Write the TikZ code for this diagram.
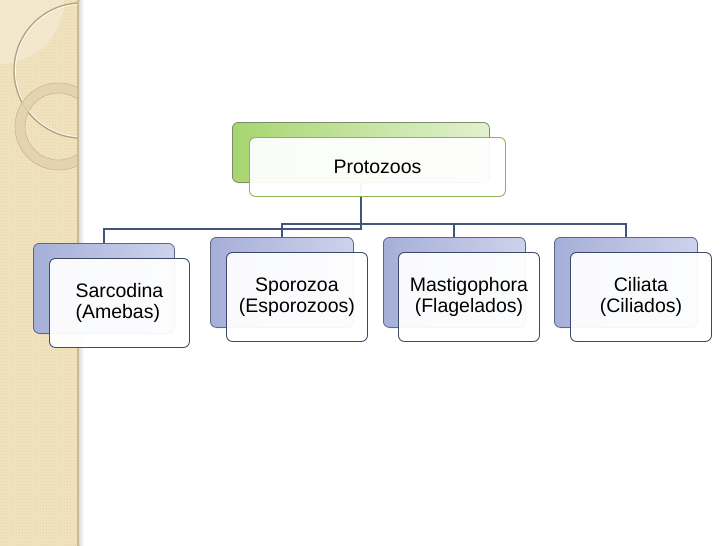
\documentclass[tikz,border=0pt]{standalone}
\usepackage{fontspec}
\setmainfont{Liberation Sans}
\usetikzlibrary{patterns,shadows}
\definecolor{bandc}{HTML}{F2E4C0}
\definecolor{bandd}{HTML}{E4D1A4}
\definecolor{quadc}{HTML}{F7EEDB}
\definecolor{arcc}{HTML}{B0A27E}
\definecolor{ringc}{HTML}{E2D3AE}
\definecolor{ringe}{HTML}{C9B88F}
\definecolor{edgec}{HTML}{CDBB8F}
\definecolor{blL}{HTML}{A6AFD8}
\definecolor{blR}{HTML}{CDD3EC}
\definecolor{blB}{HTML}{5C6685}
\definecolor{frB}{HTML}{3D4A6B}
\definecolor{grL}{HTML}{A6D670}
\definecolor{grR}{HTML}{E2F1CF}
\definecolor{grB}{HTML}{7C8C6A}
\definecolor{grF}{HTML}{8DB35B}
\definecolor{connc}{HTML}{44557A}
\begin{document}
\begin{tikzpicture}[x=1pt,y=-1pt,
  lab/.style={font=\fontsize{19.5}{21}\selectfont},
  backbox/.style={rounded corners=6pt, draw=blB, line width=0.8pt, left color=blL, right color=blR,
    inner sep=0pt, anchor=north west, drop shadow={opacity=0.2, shadow xshift=0.8pt, shadow yshift=-1pt}},
  gbackbox/.style={backbox, draw=grB, left color=grL, right color=grR},
  frontbox/.style={rounded corners=6pt, draw=frB, line width=0.9pt, fill=white, fill opacity=0.94,
    text opacity=1, inner sep=0pt, anchor=north west, lab, align=center},
  gfrontbox/.style={frontbox, draw=grF},
  conn/.style={draw=connc, line width=2pt}]
\useasboundingbox (0,0) rectangle (728,546);
\fill[white] (0,0) rectangle (728,546);
% decorative left band
\fill[bandc] (0,0) rectangle (79.5,546);
\pattern[pattern=crosshatch dots, pattern color=bandd] (0,0) rectangle (79.5,546);
\begin{scope}
  \clip (0,0) rectangle (79.5,546);
  \fill[quadc, opacity=0.55] (0,0) circle (64);
  \draw[arcc, line width=1.3pt] (81.6,70.5) circle (67.6);
  \draw[white, line width=0.7pt, opacity=0.8] (81.6,70.5) circle (66.2);
  \draw[ringc, line width=10pt, opacity=0.85] (58.5,126.5) circle (38.5);
  \draw[ringe, line width=0.6pt] (58.5,126.5) circle (43.5);
  \draw[ringe, line width=0.6pt] (58.5,126.5) circle (33.5);
\end{scope}
\fill[edgec] (77,0) rectangle (79.5,546);
\shade[left color=black!12, right color=white] (79.5,0) rectangle (84,546);
% back boxes
\node[gbackbox, minimum width=257pt, minimum height=60pt] (protob) at (232,122) {};
\node[backbox, minimum width=141pt, minimum height=90pt] (sarb) at (33,243) {};
\node[backbox, minimum width=143pt, minimum height=90pt] (spob) at (210,237) {};
\node[backbox, minimum width=142pt, minimum height=90pt] (masb) at (383,237) {};
\node[backbox, minimum width=143pt, minimum height=90pt] (cilb) at (554,237) {};
% connectors
\coordinate (busA) at (0,229);
\coordinate (busB) at (0,224);
\draw[conn] (protob.south) -- (protob.south |- busA) -| (sarb.north);
\draw[conn] (spob.north) -- (spob.north |- busB) -| (cilb.north);
\draw[conn] (masb.north) -- (masb.north |- busB);
% front boxes
\node[gfrontbox, minimum width=256pt, minimum height=59pt] (proto) at (249,137) {Protozoos};
\node[frontbox, align=left, minimum width=140pt, minimum height=89pt] (sar) at (49,258) {Sarcodina\\(Amebas)};
\node[frontbox, minimum width=141pt, minimum height=89pt] (spo) at (226,252) {Sporozoa\\(Esporozoos)};
\node[frontbox, minimum width=141pt, minimum height=89pt] (mas) at (398,252) {Mastigophora\\(Flagelados)};
\node[frontbox, minimum width=141pt, minimum height=89pt] (cil) at (570,252) {Ciliata\\(Ciliados)};
\end{tikzpicture}
\end{document}
